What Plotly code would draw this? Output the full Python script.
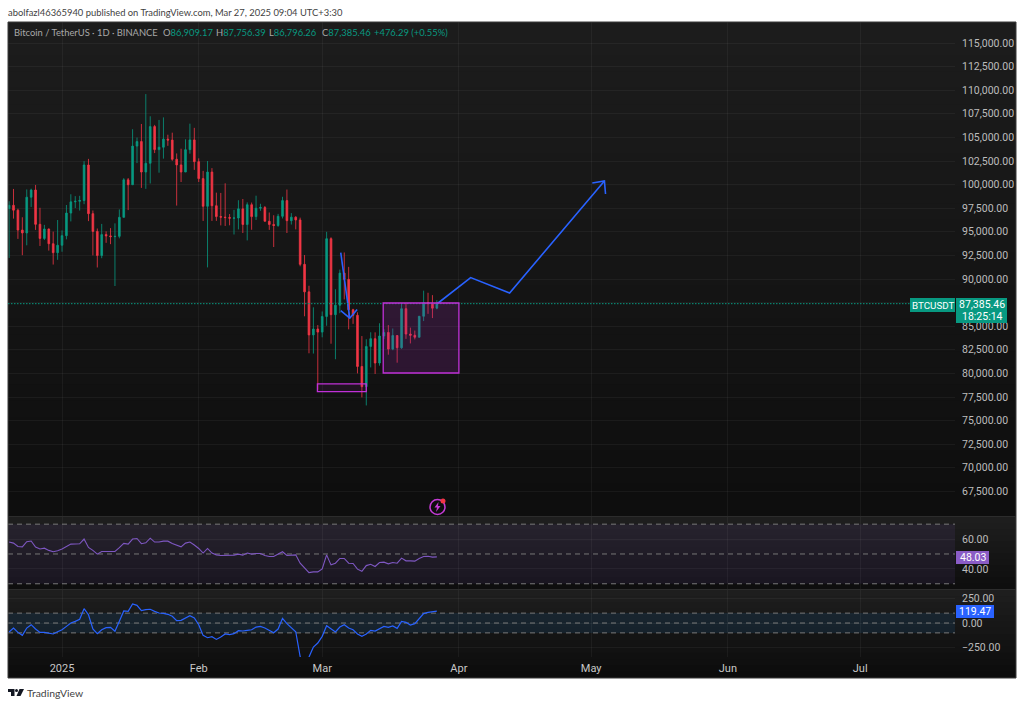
import pandas as pd
import plotly.graph_objects as go

dates = pd.date_range("2024-12-20", "2025-03-27", freq="D")

opens = [97461, 97805, 97291, 95186, 94881, 98663, 99429, 95792, 94299, 95300, 93738, 92792,
         93576, 94591, 96984, 98174, 98236, 98314, 102078, 96922, 95043, 92484, 94701, 94566, 94488, 94516, 96534,
         100505, 99987, 104078, 104556, 101331, 102260, 106144, 103706, 103960, 104819, 104714, 102682, 102087,
         101332, 103703, 104735,
         102429, 100635, 97700, 101328, 97763, 96612, 96554, 96506, 96444, 96462, 97430, 95778, 97869, 96608,
         97500, 97569, 96118, 95780, 95671, 96644, 98305, 96181, 96551, 96258, 91552, 88638, 84076, 84704,
         84373, 86032, 94269, 86221, 87222, 90623, 89961, 86742, 86154, 80734, 78595, 82858, 83680, 81100,
         83962, 84338, 82574, 84011, 82718, 86854, 84167, 84043, 83832, 86054, 87498, 87392, 86909]
highs = [98233, 99540, 97448, 96538, 99487, 99569, 99963, 97544, 95733, 95340, 95024, 96250,
         95151, 97839, 98976, 98778, 98813, 102482, 102724, 97258, 95349, 95836, 95050, 95389, 95893, 97371, 100681,
         100700, 105865, 104988, 106422, 109588, 107240, 106327, 106850, 107120, 105286, 105500, 103300, 103800,
         104800, 106457, 106012,
         102783, 101456, 102500, 101745, 99149, 99120, 100137, 96880, 97323, 98345, 98478, 98119, 98100, 98826,
         97970, 97730, 97046, 96753, 96899, 98711, 99475, 96980, 96650, 96500, 92540, 89286, 87000, 85120,
         86560, 95000, 94416, 88911, 90998, 92810, 91283, 86847, 86471, 83955, 83617, 84358, 84350, 85309,
         84676, 85117, 84756, 84021, 87453, 87443, 84850, 84539, 86000, 88765, 88542, 88292, 87756]
lows = [92232, 96398, 94250, 92520, 93569, 97632, 95199, 93500, 94135, 93009, 91530, 92033,
        92888, 94201, 96100, 97514, 97250, 97926, 96132, 92500, 91220, 92202, 93831, 93692, 89256, 94306, 96500,
        97300, 99950, 102277, 99651, 99550, 100119, 103339, 101262, 102750, 104106, 102520, 97777, 100272,
        101328, 103278, 101560,
        100279, 96150, 91231, 96150, 96155, 95676, 95620, 95688, 94713, 95256, 94876, 94088, 95217, 96252,
        97223, 96206, 95205, 93388, 95527, 96415, 94871, 95770, 95257, 91349, 86050, 82131, 82101, 78258,
        83824, 85050, 83144, 81500, 86379, 87836, 84667, 85247, 80000, 77459, 76606, 80635, 79939, 80818,
        83639, 81981, 82456, 81134, 82600, 83655, 83175, 83600, 83800, 85541, 86310, 85860, 86796]
closes = [97805, 97291, 95186, 94881, 98663, 99429, 95792, 94299, 95300, 93738, 92792, 93576,
          94591, 96984, 98174, 98236, 98314, 102078, 96922, 95043, 92484, 94701, 94566, 94488, 94516, 96534, 100505,
          99987, 104077, 104556, 101331, 102260, 106144, 103706, 103960, 104819, 104714, 102682, 102087, 101332,
          103703, 104735, 102429,
          100635, 97700, 101328, 97763, 96612, 96554, 96506, 96444, 96462, 97430, 95778, 97869, 96608, 97500,
          97569, 96118, 95780, 95671, 96644, 98305, 96181, 96551, 96258, 91552, 88638, 84076, 84704, 84373,
          86032, 94269, 86221, 87222, 90623, 89961, 86742, 86154, 80734, 78595, 82858, 83680, 81100, 83962,
          84338, 82574, 84011, 82718, 86854, 84167, 84043, 83832, 86054, 87498, 87392, 86909, 87385.46]

rsi = [58, 57.3, 55, 54.8, 58.2, 58.7, 54.6, 53.3, 53.9, 52.4, 51.5, 52.1,
       53.3, 55, 56.6, 56.7, 56.8, 60, 54.4, 52.4, 49.9, 51.7, 51.7, 51.7, 51.7, 54.2, 57.1,
       56.6, 60, 60.4, 56.9, 57.5, 60.6, 58, 58, 58.6, 58.6, 57, 55.7, 54.8, 57.3, 58, 56,
       53.7, 50.6, 53.7, 50.6, 49.4, 49, 49, 49, 49.2, 49.9, 49.2, 50.6, 49.9, 50.3,
       50.3, 49, 48.3, 48.3, 49.7, 51.5, 49, 49.4, 49.4, 43.8, 40.9, 37.5, 38, 38,
       40, 49.4, 42.7, 43.8, 47, 47, 43.8, 43.6, 39.8, 38.4, 42.2, 43.1, 41.6, 44.3,
       44.5, 43.4, 44.3, 43.8, 47.2, 45.4, 45.4, 45.2, 47, 48.3, 48.5, 47.9, 48.03]
cci = [-91, -51, -95, -125, -51, -17, -61, -95, -95, -101, -111, -88,
       -68, -34, 0, 17, 37, 145, 84, -61, -108, -68, -47, -44, -84, 17, 122,
       118, 193, 179, 125, 135, 139, 118, 101, 98, 88, 68, 24, 27, 51, 74, 51,
       -17, -125, -149, -139, -166, -142, -111, -118, -108, -78, -81, -74, -68, -41,
       -34, -51, -74, -98, -61, 47, -7, -51, -88, -340, -420, -345, -243, -203,
       -135, -27, -57, -91, -41, -17, -51, -68, -111, -135, -111, -74, -81, -57,
       -34, -44, -30, -54, 17, 7, -20, -7, 41, 95, 108, 111, 119.47]

price_ticks = list(range(67500, 115001, 2500))
# the 87,500 label sits behind the live price box
price_labels = ["" if p == 87500 else f"{p:,.2f}" for p in price_ticks]
month_ticks = ["2025-01-01", "2025-02-01", "2025-03-01", "2025-04-01", "2025-05-01", "2025-06-01", "2025-07-01"]
month_labels = ["2025", "Feb", "Mar", "Apr", "May", "Jun", "Jul"]
last_close = 87385.46

# drawings on the chart
big_box_x = ["2025-03-14 20:00", "2025-04-01"]
big_box_y = [87458, 80042]
small_box_x = ["2025-02-27 22:00", "2025-03-11"]
small_box_y = [78880, 78060]
path_x = ["2025-03-27", "2025-04-03 16:00", "2025-04-12 12:00", "2025-05-04 00:00"]
path_y = [87352, 90150, 88517, 100380]
path_head_x = ["2025-05-01 06:00", "2025-05-04 00:00", "2025-05-04 06:00"]
path_head_y = [100170, 100380, 99000]
drop_x = ["2025-03-05 05:00", "2025-03-07 06:00"]
drop_y = [92800, 85850]
drop_head_x = ["2025-03-05 05:00", "2025-03-07 06:00", "2025-03-08 22:00"]
drop_head_y = [86640, 85850, 86770]

UP = "#089981"
DOWN = "#f23645"
BLUE = "#2962ff"
PINK = "#c030d8"
AXIS_TEXT = "#bdbdbd"
GRID = "rgba(242,242,242,0.05)"
FONT = "Roboto"
HEAD_FONT = "Lato"
W, H = 1024, 707


def px(x):
    return x / W


def py(y):
    return 1 - y / H


def gradient(x0, x1, y0, y1, top, bottom, steps=30):
    # nested rects, each one runs to the pane bottom so no seams show
    out = []
    for i in range(steps):
        c = round(top + (bottom - top) * i / (steps - 1))
        out.append(dict(type="rect", xref="paper", yref="paper", layer="below",
                        x0=px(x0), x1=px(x1),
                        y0=py(y0 + (y1 - y0) * i / steps), y1=py(y1),
                        fillcolor=f"rgb({c},{c},{c})", line_width=0))
    return out


fig = go.Figure()
fig.add_trace(go.Candlestick(
    x=dates, open=opens, high=highs, low=lows, close=closes,
    increasing=dict(line=dict(color=UP, width=0.8), fillcolor=UP),
    decreasing=dict(line=dict(color=DOWN, width=0.8), fillcolor=DOWN),
    whiskerwidth=0, hoverinfo="skip", xaxis="x", yaxis="y"))
for xs, ys in [(path_x, path_y), (path_head_x, path_head_y), (drop_x, drop_y), (drop_head_x, drop_head_y)]:
    fig.add_trace(go.Scatter(x=xs, y=ys, mode="lines", line=dict(color=BLUE, width=1.6), xaxis="x", yaxis="y"))
fig.add_trace(go.Scatter(x=dates, y=rsi, mode="lines", line=dict(color="#7e57c2", width=1.1), xaxis="x2", yaxis="y2"))
fig.add_trace(go.Scatter(x=dates, y=cci, mode="lines", line=dict(color=BLUE, width=1.2), xaxis="x3", yaxis="y3"))

shapes = []
shapes += gradient(8, 1016, 22, 516, 28, 14)
shapes += gradient(8, 1016, 517, 589, 30, 14, 12)
shapes += gradient(8, 1016, 590, 678, 30, 12, 14)
shapes.append(dict(type="rect", xref="paper", yref="paper", x0=px(8), x1=px(1016), y0=py(22), y1=py(678),
                   line=dict(color="#3a3a3a", width=1), fillcolor="rgba(0,0,0,0)"))
shapes.append(dict(type="line", xref="paper", yref="paper", x0=px(8), x1=px(1016), y0=py(516.5), y1=py(516.5),
                   line=dict(color="#2c2c2c", width=1)))
shapes.append(dict(type="line", xref="paper", yref="paper", x0=px(8), x1=px(1016), y0=py(589.5), y1=py(589.5),
                   line=dict(color="#2c2c2c", width=1)))
# indicator bands
shapes.append(dict(type="rect", xref="paper", yref="y2", x0=px(8), x1=px(955), y0=30, y1=70, layer="between",
                   fillcolor="rgba(126,87,194,0.1)", line_width=0))
shapes.append(dict(type="rect", xref="paper", yref="y3", x0=px(8), x1=px(955), y0=-100, y1=100, layer="between",
                   fillcolor="rgba(33,150,243,0.1)", line_width=0))
for yref, level in [("y2", 70), ("y2", 50), ("y2", 30), ("y3", 100), ("y3", 0), ("y3", -100)]:
    shapes.append(dict(type="line", xref="paper", yref=yref, x0=px(8), x1=px(955), y0=level, y1=level,
                       line=dict(color="#787878", width=1, dash="5px,4px"), layer="between"))
# last price line and drawings
shapes.append(dict(type="line", xref="paper", yref="y", x0=px(8), x1=px(910), y0=last_close, y1=last_close,
                   line=dict(color=UP, width=1, dash="1.5px,1.5px")))
shapes.append(dict(type="rect", xref="x", yref="y", x0=big_box_x[0], x1=big_box_x[1], y0=big_box_y[0], y1=big_box_y[1],
                   fillcolor="rgba(156,39,176,0.2)", line=dict(color=PINK, width=1.3)))
shapes.append(dict(type="rect", xref="x", yref="y", x0=small_box_x[0], x1=small_box_x[1], y0=small_box_y[0], y1=small_box_y[1],
                   fillcolor="rgba(156,39,176,0.1)", line=dict(color=PINK, width=1.3)))
# price label boxes
shapes.append(dict(type="rect", xref="paper", yref="paper", x0=px(910), x1=px(955), y0=py(298), y1=py(312), fillcolor=UP, line_width=0))
shapes.append(dict(type="rect", xref="paper", yref="paper", x0=px(956), x1=px(1007), y0=py(298), y1=py(323), fillcolor=UP, line_width=0))
shapes.append(dict(type="rect", xref="paper", yref="paper", x0=px(956), x1=px(989), y0=py(551), y1=py(564), fillcolor="#8a5cc6", line_width=0))
shapes.append(dict(type="rect", xref="paper", yref="paper", x0=px(956), x1=px(994), y0=py(605), y1=py(618), fillcolor=BLUE, line_width=0))
# lightning badge
shapes.append(dict(type="circle", xref="paper", yref="paper", x0=px(430), x1=px(445), y0=py(499.5), y1=py(514.5),
                   line=dict(color="#c53bd6", width=1.5)))
shapes.append(dict(type="circle", xref="paper", yref="paper", x0=px(440.5), x1=px(445.5), y0=py(498.5), y1=py(503.5),
                   fillcolor="#f23645", line_width=0))


def poly(points):
    return "M" + " L".join(f"{px(a)},{py(b)}" for a, b in points) + " Z"


shapes.append(dict(type="path", xref="paper", yref="paper", line_width=0, fillcolor="#c53bd6",
                   path=poly([(438.5, 502), (434.5, 507.5), (437, 507.5), (436, 512), (440.5, 506), (438, 506)])))
# footer logo
shapes.append(dict(type="path", xref="paper", yref="paper", line_width=0, fillcolor="#131722",
                   path=poly([(8, 689), (14.5, 689), (14.5, 696), (11, 696), (11, 692), (8, 692)])))
shapes.append(dict(type="circle", xref="paper", yref="paper", x0=px(15), x1=px(18), y0=py(689), y1=py(692),
                   fillcolor="#131722", line_width=0))
shapes.append(dict(type="path", xref="paper", yref="paper", line_width=0, fillcolor="#131722",
                   path=poly([(19.5, 689), (24, 689), (20.5, 696), (16.5, 696)])))

annotations = []


def label(x, y, text, color, size=10.5, anchor="left", family=FONT):
    annotations.append(dict(xref="paper", yref="paper", x=px(x), y=py(y), text=text, showarrow=False,
                            xanchor=anchor, yanchor="middle", align="left", borderpad=0,
                            font=dict(color=color, size=size, family=family)))


label(7, 12, "abolfazl46365940 published on TradingView.com, Mar 27, 2025 09:04 UTC+3:30", "#3f3f3f", 9.4, family=HEAD_FONT)
label(13, 33, "Bitcoin / TetherUS · 1D · BINANCE", "#a8a8a8", 9.4, family=HEAD_FONT)


def green(s):
    return f'<span style="color:{UP}">{s}</span>'


for xpos, key, val in [(162, "O", "86,909.17"), (215, "H", "87,756.39"), (268, "L", "86,796.26"), (321, "C", "87,385.46")]:
    label(xpos, 33, key + green(val), "#a8a8a8", 9.4, family=HEAD_FONT)
label(373, 33, green("+476.29 (+0.55%)"), "#a8a8a8", 9.4, family=HEAD_FONT)
label(933, 305, "BTCUSDT", "#ffffff", 9.8, "center")
label(982, 304.5, "87,385.46", "#ffffff", 10.5, "center")
label(982, 316, "18:25:14", "#ffffff", 10.5, "center")
label(972.5, 557.5, "48.03", "#ffffff", 10.5, "center")
label(975, 611.5, "119.47", "#ffffff", 10.5, "center")
label(26, 692.5, "TradingView", "#3f3f3f", 10.4, family=HEAD_FONT)

x_start, x_end = "2024-12-19 18:00", "2025-07-22 12:00"
axis_common = dict(
    range=[x_start, x_end], type="date", tickmode="array", tickvals=month_ticks, ticktext=month_labels,
    showgrid=True, gridcolor=GRID, gridwidth=1, zeroline=False, showline=False, ticks="",
    domain=[px(8), px(955)], rangeslider=dict(visible=False),
)
tick_font = dict(color=AXIS_TEXT, size=10.5, family=FONT)
y_common = dict(side="right", showgrid=True, gridcolor=GRID, zeroline=False, showline=False, ticks="",
                tickmode="array", tickfont=tick_font, ticklabelstandoff=6, tickformat=",.2f")

fig.update_layout(
    width=W, height=H, margin=dict(l=0, r=0, t=0, b=0), showlegend=False,
    paper_bgcolor="#ffffff", plot_bgcolor="rgba(0,0,0,0)", hovermode=False, boxgap=0.45,
    shapes=shapes, annotations=annotations,
    xaxis=dict(axis_common, anchor="y", showticklabels=False),
    xaxis2=dict(axis_common, anchor="y2", showticklabels=False),
    xaxis3=dict(axis_common, anchor="y3", showticklabels=True, tickfont=dict(color="#c8c8c8", size=11, family=FONT),
                ticklabelstandoff=3),
    yaxis=dict(y_common, anchor="x", domain=[py(516), py(22)], range=[64894, 117225], tickvals=price_ticks,
               ticktext=price_labels),
    yaxis2=dict(y_common, anchor="x2", domain=[py(589), py(517)], range=[26.5, 74.8], tickvals=[40, 60]),
    yaxis3=dict(y_common, anchor="x3", domain=[py(657), py(590)], range=[-344, 334], tickvals=[-250, 0, 250]),
)

fig.write_html("out.html", config={"displayModeBar": False},
               post_script="document.body.style.margin='0'")
